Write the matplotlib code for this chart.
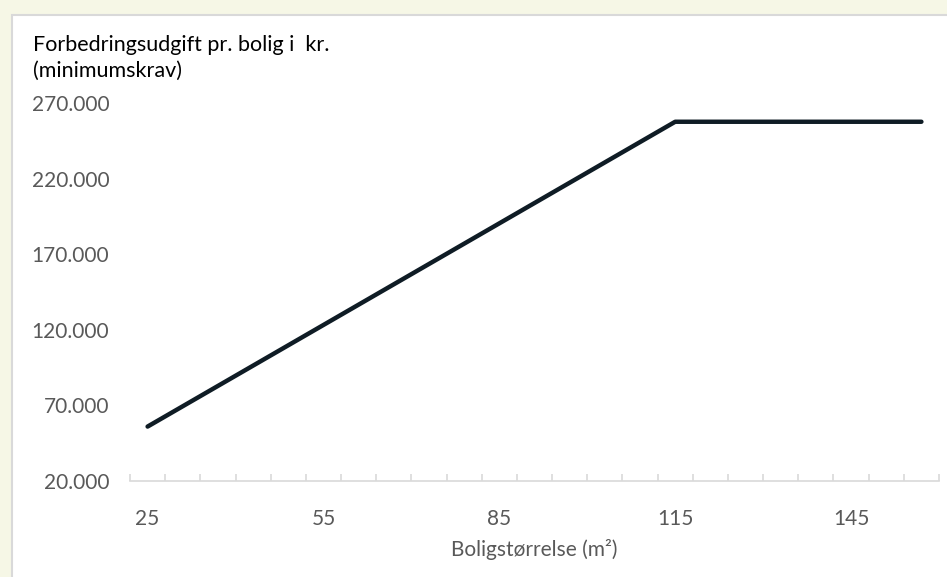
import numpy as np
import matplotlib.pyplot as plt
from matplotlib.patches import Rectangle
from matplotlib.ticker import FuncFormatter, FixedLocator

# boligstørrelse (m2) og forbedringsudgift pr. bolig (kr.)
size = [25, 31, 37, 43, 49, 55, 61, 67, 73, 79, 85, 91, 97, 103, 109,
        115, 121, 127, 133, 139, 145, 151, 157]
cost = [56000, 69440, 82880, 96320, 109760, 123200, 136640, 150080, 163520,
        176960, 190400, 203840, 217280, 230720, 244160, 257600, 257600,
        257600, 257600, 257600, 257600, 257600, 257600]
xticks = [25, 55, 85, 115, 145]
yticks = [20000, 70000, 120000, 170000, 220000, 270000]

plt.rcParams['font.family'] = ['Lato', 'DejaVu Sans']

fig = plt.figure(figsize=(9.47, 5.77), dpi=100)
fig.patch.set_facecolor('#f6f7e6')
# white chart panel with grey border
panel = Rectangle((11.5/947, -0.01), 1, 1.01 - 14.5/577, transform=fig.transFigure,
                  facecolor='white', edgecolor='#d9d9d9', linewidth=1.5, zorder=-5)
fig.add_artist(panel)

ax = fig.add_axes([130/947, 1 - 481/577, (939-130)/947, (481-103)/577])
ax.set_zorder(2)
ax.set_facecolor('none')
ax.plot(size, cost, color='#0f1c25', linewidth=3.2, solid_capstyle='round',
        solid_joinstyle='round', clip_on=False)

ax.set_xlim(22, 160)
ax.set_ylim(20000, 270000)
ax.set_xticks(xticks)
# category boundaries (excel-style tick marks between categories)
ax.xaxis.set_minor_locator(FixedLocator(np.arange(22, 161, 6)))
ax.set_yticks(yticks)
ax.yaxis.set_major_formatter(FuncFormatter(lambda v, p: f'{int(v):,}'.replace(',', '.')))

for s in ['top', 'right', 'left']:
    ax.spines[s].set_visible(False)
ax.spines['bottom'].set_color('#d9d9d9')
ax.spines['bottom'].set_linewidth(1.2)

ax.tick_params(axis='x', which='major', length=0, pad=20, labelsize=15, labelcolor='#595959')
ax.tick_params(axis='x', which='minor', direction='in', length=5, color='#d9d9d9', width=1.2)
ax.tick_params(axis='y', length=0, pad=15, labelsize=15, labelcolor='#595959')

ax.set_xlabel('Boligstørrelse (m²)', fontsize=15, color='#595959', labelpad=7)

fig.text(33/947, 1 - 45/577, 'Forbedringsudgift pr. bolig i  kr.', fontsize=15.5,
         color='black', va='center', ha='left')
fig.text(33/947, 1 - 71/577, '(minimumskrav)', fontsize=15.5,
         color='black', va='center', ha='left')

fig.savefig('out.png', dpi=100, facecolor=fig.get_facecolor())
